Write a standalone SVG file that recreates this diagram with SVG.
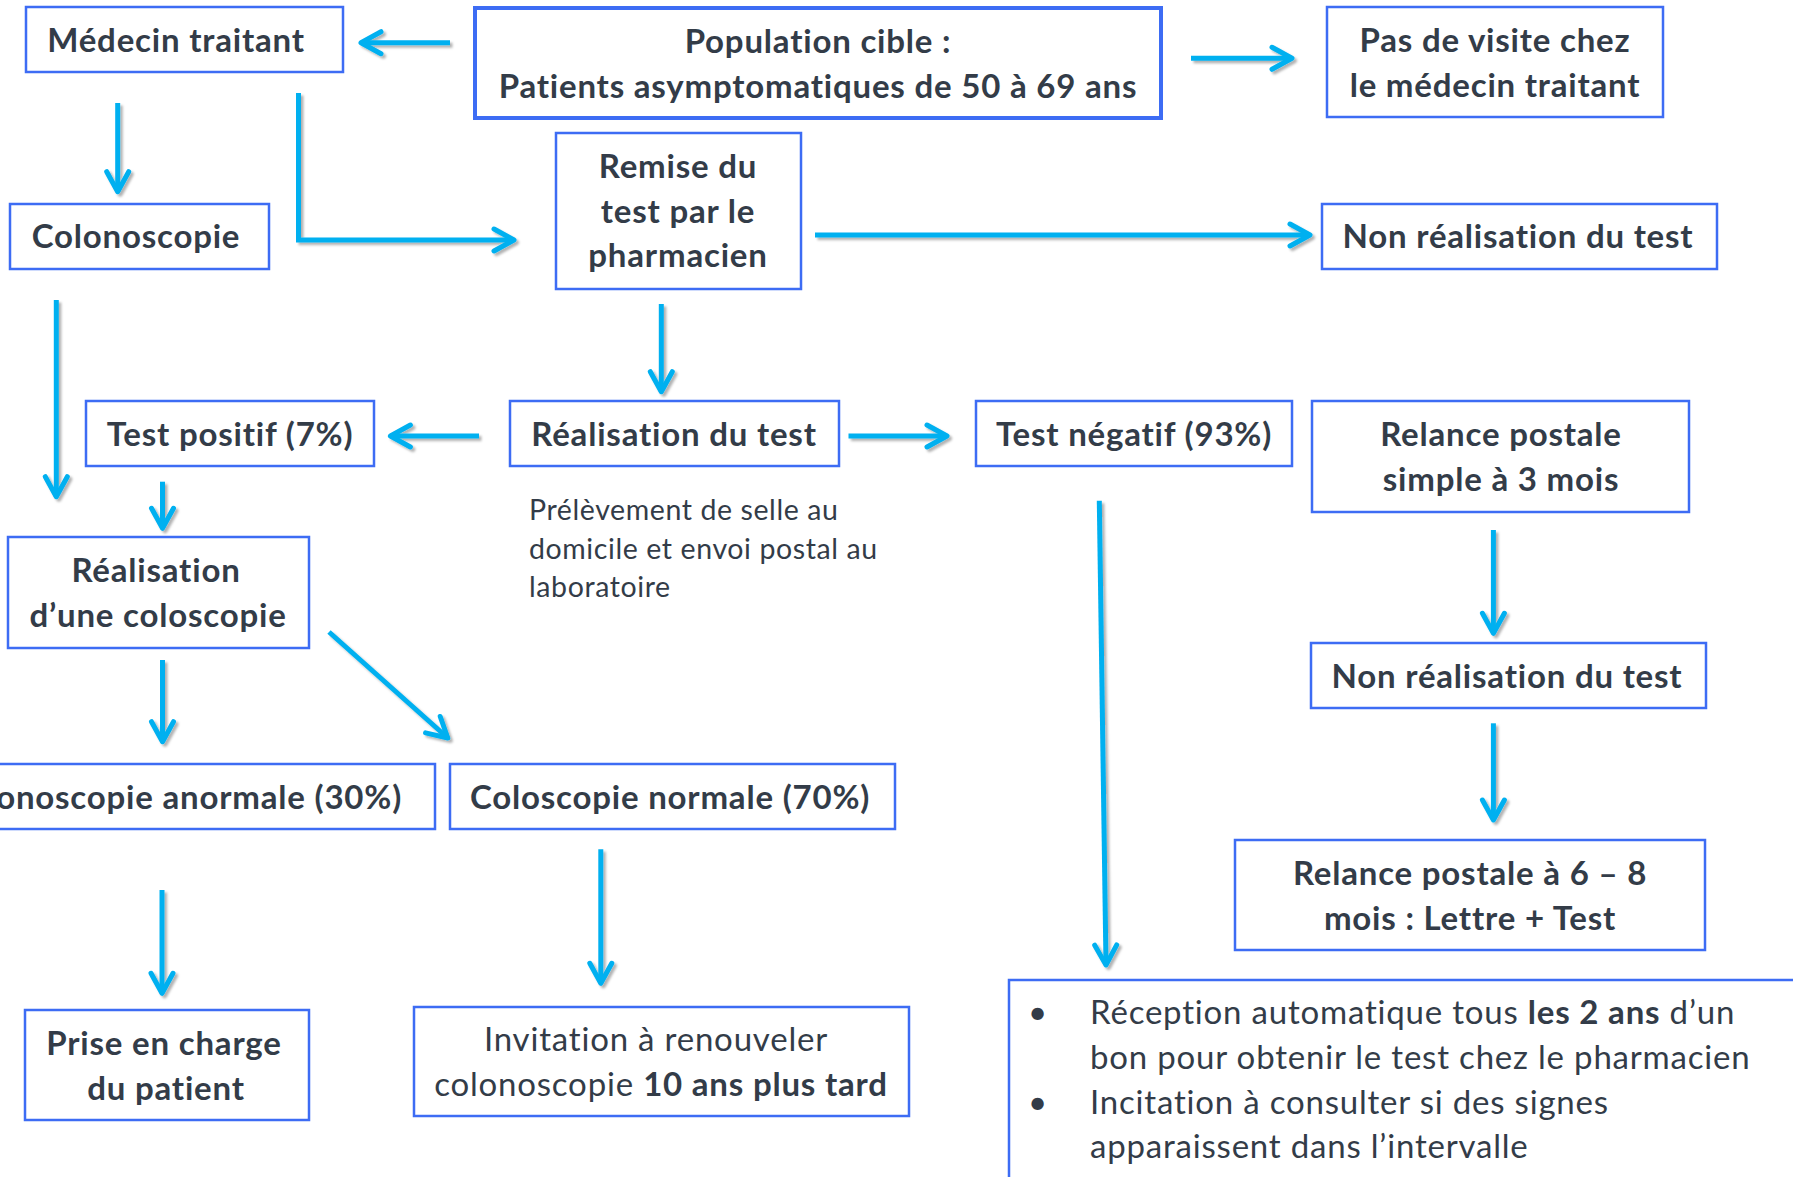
<svg xmlns="http://www.w3.org/2000/svg" width="1793" height="1177" viewBox="0 0 1793 1177">
<style>
.box{fill:#ffffff;stroke:#3d6cf4;stroke-width:2.5}
.thick{stroke-width:4}
.b{font-family:Lato,"Liberation Sans",sans-serif;font-weight:700;font-size:33px;letter-spacing:0.8px;fill:#333c48;text-anchor:middle}
.r{font-family:Lato,"Liberation Sans",sans-serif;font-weight:400;font-size:33px;letter-spacing:0.8px;fill:#333c48}
.s{font-size:28.5px;letter-spacing:0.6px}
.c{text-anchor:middle}
.bb{font-weight:700}
.con{fill:none;stroke:#00b0f0;stroke-width:5;marker-end:url(#ah)}
</style>
<defs>
<marker id="ah" markerUnits="userSpaceOnUse" markerWidth="40" markerHeight="40" viewBox="-30 -20 40 40" refX="0" refY="0" orient="auto" overflow="visible">
<path d="M-20,-11 L0,0 L-20,11" fill="none" stroke="#00b0f0" stroke-width="5" stroke-linecap="round" stroke-linejoin="round"/>
</marker>
<filter id="sh" x="-20%" y="-20%" width="140%" height="140%">
<feDropShadow dx="2.5" dy="2.5" stdDeviation="1" flood-color="#000000" flood-opacity="0.3"/>
</filter>
</defs>
<rect width="1793" height="1177" fill="#ffffff"/>

<g id="connectors" filter="url(#sh)">
<path class="con" d="M450,42.7 L361,42.7"/>
<path class="con" d="M1191,58.3 L1292,58.3"/>
<path class="con" d="M117.7,103 L117.7,191.7"/>
<path class="con" d="M298.5,93 L298.5,240 L514,240"/>
<path class="con" d="M815,235 L1310,235"/>
<path class="con" d="M56.3,300 L56.3,496.7"/>
<path class="con" d="M661.3,304 L661.3,391.7"/>
<path class="con" d="M479,436 L390.4,436"/>
<path class="con" d="M848.5,436 L947,436"/>
<path class="con" d="M162.5,481.7 L162.5,528.3"/>
<path class="con" d="M162.5,660 L162.5,741.7"/>
<path class="con" d="M329,632 L447.8,738"/>
<path class="con" d="M162,890 L162,993.3"/>
<path class="con" d="M600.8,849.3 L600.8,983.3"/>
<path class="con" d="M1099.3,500.7 L1106,965"/>
<path class="con" d="M1493.4,530 L1493.4,633.3"/>
<path class="con" d="M1493.4,723.3 L1493.4,820"/>
</g>

<g id="medecin">
<rect class="box" x="26" y="7" width="317" height="65"/>
<text class="b" x="176" y="51.5">Médecin traitant</text>
</g>
<g id="population">
<rect class="box thick" x="475" y="8" width="686" height="110"/>
<text class="b" x="818" y="53">Population cible :</text>
<text class="b" x="818" y="98">Patients asymptomatiques de 50 à 69 ans</text>
</g>
<g id="pas-de-visite">
<rect class="box" x="1327" y="7" width="336" height="110"/>
<text class="b" x="1495" y="51.5">Pas de visite chez</text>
<text class="b" x="1495" y="96.5">le médecin traitant</text>
</g>
<g id="remise">
<rect class="box" x="556" y="133" width="245" height="156"/>
<text class="b" x="678" y="178">Remise du</text>
<text class="b" x="678" y="222.5">test par le</text>
<text class="b" x="678" y="266.5">pharmacien</text>
</g>
<g id="colonoscopie">
<rect class="box" x="10" y="204" width="259" height="65"/>
<text class="b" x="136" y="248">Colonoscopie</text>
</g>
<g id="non-realisation-1">
<rect class="box" x="1322" y="204" width="395" height="65"/>
<text class="b" x="1518" y="248">Non réalisation du test</text>
</g>
<g id="test-positif">
<rect class="box" x="86" y="401" width="288" height="65"/>
<text class="b" x="230" y="446">Test positif (7%)</text>
</g>
<g id="realisation-test">
<rect class="box" x="510" y="401" width="329" height="65"/>
<text class="b" x="674" y="446">Réalisation du test</text>
</g>
<g id="prelevement">
<text class="r s" x="529" y="520">Prélèvement de selle au</text>
<text class="r s" x="529" y="558.5">domicile et envoi postal au</text>
<text class="r s" x="529" y="597">laboratoire</text>
</g>
<g id="test-negatif">
<rect class="box" x="976" y="401" width="316" height="65"/>
<text class="b" x="1134" y="446">Test négatif (93%)</text>
</g>
<g id="relance-simple">
<rect class="box" x="1312" y="401" width="377" height="111"/>
<text class="b" x="1501" y="445.5">Relance postale</text>
<text class="b" x="1501" y="490.5">simple à 3 mois</text>
</g>
<g id="realisation-coloscopie">
<rect class="box" x="8" y="537" width="301" height="111"/>
<text class="b" x="156" y="581.5">Réalisation</text>
<text class="b" x="158" y="626.5">d’une coloscopie</text>
</g>
<g id="non-realisation-2">
<rect class="box" x="1311" y="643" width="395" height="65"/>
<text class="b" x="1507" y="688">Non réalisation du test</text>
</g>
<g id="coloscopie-anormale">
<rect class="box" x="-20" y="764" width="455" height="65"/>
<text class="b" x="402" y="808.5" style="text-anchor:end">Colonoscopie anormale (30%)</text>
</g>
<g id="coloscopie-normale">
<rect class="box" x="450" y="764" width="445" height="65"/>
<text class="b" x="670" y="808.5">Coloscopie normale (70%)</text>
</g>
<g id="relance-6-8">
<rect class="box" x="1235" y="840" width="470" height="110"/>
<text class="b" x="1470" y="885">Relance postale à 6 – 8</text>
<text class="b" x="1470" y="930">mois : Lettre + Test</text>
</g>
<g id="prise-en-charge">
<rect class="box" x="25" y="1010" width="284" height="110"/>
<text class="b" x="164" y="1055">Prise en charge</text>
<text class="b" x="166" y="1099.5">du patient</text>
</g>
<g id="invitation">
<rect class="box" x="414" y="1007" width="495" height="109"/>
<text class="r c" x="656" y="1051">Invitation à renouveler</text>
<text class="r c" x="661" y="1096">colonoscopie <tspan class="bb">10 ans plus tard</tspan></text>
</g>
<g id="bulletin">
<rect class="box" x="1009" y="980" width="900" height="300"/>
<text class="r" x="1028" y="1024">•</text>
<text class="r" x="1090" y="1024">Réception automatique tous <tspan class="bb">les 2 ans</tspan> d’un</text>
<text class="r" x="1090" y="1069">bon pour obtenir le test chez le pharmacien</text>
<text class="r" x="1028" y="1114">•</text>
<text class="r" x="1090" y="1114">Incitation à consulter si  des signes</text>
<text class="r" x="1090" y="1158">apparaissent dans l’intervalle</text>
</g>
</svg>
